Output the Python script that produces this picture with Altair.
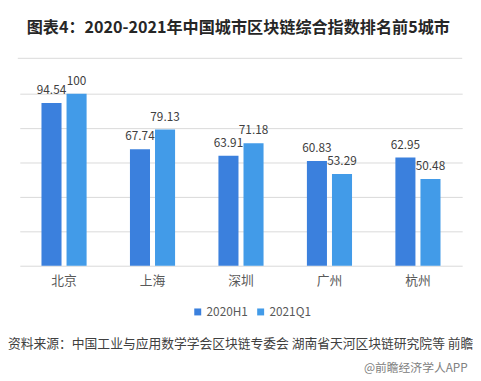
import altair as alt
import pandas as pd

cities = ["北京", "上海", "深圳", "广州", "杭州"]
series = ["2020H1", "2021Q1"]
v2020h1 = [94.54, 67.74, 63.91, 60.83, 62.95]
v2021q1 = [100, 79.13, 71.18, 53.29, 50.48]
colors = ["#3b80dd", "#429be8"]
title_text = "图表4：2020-2021年中国城市区块链综合指数排名前5城市"
source_text = "资料来源：中国工业与应用数学学会区块链专委会 湖南省天河区块链研究院等 前瞻产业研究院"
credit_text = "@前瞻经济学人APP"

rows = []
for c, a, b in zip(cities, v2020h1, v2021q1):
    rows.append({"city": c, "series": series[0], "value": a, "label": f"{a:g}"})
    rows.append({"city": c, "series": series[1], "value": b, "label": f"{b:g}"})
df = pd.DataFrame(rows)

FONT = "Noto Sans CJK SC"

x = alt.X("city:N", sort=cities, title=None,
          scale=alt.Scale(paddingInner=0.49, paddingOuter=0.245),
          axis=alt.Axis(labelAngle=0, domain=False, ticks=False, labelPadding=9,
                        labelFontSize=13, labelColor="#595959", labelFont=FONT))
xo = alt.XOffset("series:N", sort=series, scale=alt.Scale(paddingInner=0.2, paddingOuter=0))
y = alt.Y("value:Q", title=None, scale=alt.Scale(domain=[0, 100]),
          axis=alt.Axis(values=[0, 20, 40, 60, 80, 100], labels=False, ticks=False, domain=False,
                        grid=True, gridColor="#d9d9d9", gridWidth=1))

base = alt.Chart(df)
bars = base.mark_bar().encode(
    x=x, xOffset=xo, y=y,
    color=alt.Color("series:N", sort=series, scale=alt.Scale(domain=series, range=colors),
                    legend=alt.Legend(title=None, orient="none", legendX=175, legendY=216,
                                      direction="horizontal", symbolType="square", symbolSize=50,
                                      labelFontSize=12, labelColor="#595959", labelFont=FONT,
                                      columnPadding=6, labelOffset=3, symbolStrokeWidth=0)),
)
labels = base.mark_text(baseline="alphabetic", dy=-9, fontSize=12, color="#404040", font=FONT).encode(
    x=x, xOffset=xo, y=y, text="label:N"
)

one = pd.DataFrame({"a": [0]})
divider = alt.Chart(one).mark_rule(color="#d9d9d9", strokeWidth=1).encode(
    x=alt.value(-2), x2=alt.value(450), y=alt.value(-36)
)
title = alt.Chart(pd.DataFrame({"t": [title_text]})).mark_text(
    align="left", baseline="middle", fontSize=16.4, fontWeight="bold", color="#262626", font=FONT
).encode(x=alt.value(7), y=alt.value(-67), text="t:N")
source = alt.Chart(pd.DataFrame({"t": [source_text]})).mark_text(
    align="left", baseline="middle", fontSize=13, color="#404040", font=FONT
).encode(x=alt.value(-12), y=alt.value(255), text="t:N")
credit = alt.Chart(pd.DataFrame({"t": [credit_text]})).mark_text(
    align="left", baseline="middle", fontSize=12, color="#808080", font=FONT
).encode(x=alt.value(350), y=alt.value(279), text="t:N")

chart = alt.layer(bars, labels, divider, title, source, credit).properties(
    width=450, height=175,
    autosize=alt.AutoSizeParams(type="none"),
    padding={"left": 12, "top": 84, "right": 11, "bottom": 110},
).configure_view(stroke=None)

chart.save("out.html", embed_options={"renderer": "svg", "actions": False})
